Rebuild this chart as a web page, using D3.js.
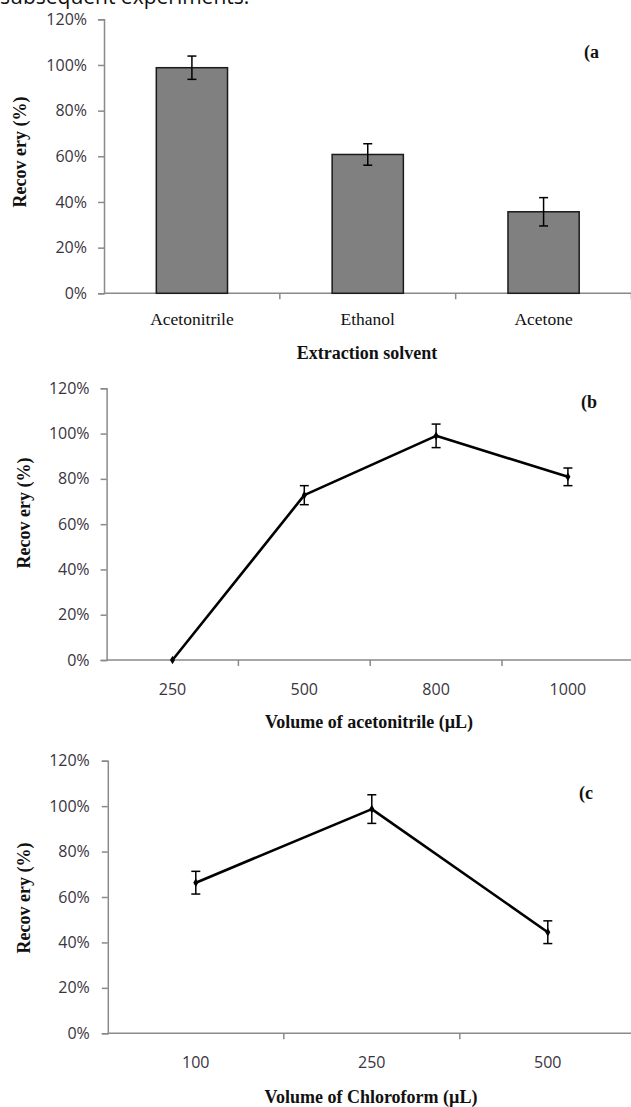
<!DOCTYPE html>
<html>
<head>
<meta charset="utf-8">
<script src="https://cdn.jsdelivr.net/npm/d3@7"></script>
<style>
  html, body { margin: 0; padding: 0; background: #fff; }
  svg { display: block; }
</style>
</head>
<body>
<svg id="chart" width="631" height="1107"></svg>
<script>
// ---------- data ----------
const yTicks = [0, 20, 40, 60, 80, 100, 120];

const solvents = ["Acetonitrile", "Ethanol", "Acetone"];
const solventRecovery = [98.8, 60.8, 35.7];
const solventError = [5.1, 4.7, 6.2];

const acnVolumes = ["250", "500", "800", "1000"];
const acnRecovery = [0, 72.8, 99.0, 80.9];
const acnError = [null, 4.2, 5.2, 3.9];

const chlVolumes = ["100", "250", "500"];
const chlRecovery = [66.3, 98.7, 44.5];
const chlError = [5.0, 6.3, 5.0];

// ---------- drawing ----------
const svg = d3.select("#chart");
const AXIS = "#8a8a8a";
const SANS = "'Open Sans', 'Noto Sans', sans-serif";
const SERIF = "'Liberation Serif', 'DejaVu Serif', serif";

// caption line at the very top (cut off in the source image)
svg.append("text")
  .attr("x", 0).attr("y", 4)
  .attr("font-family", SANS).attr("font-size", 21)
  .attr("fill", "#111")
  .text("subsequent experiments.");

function panel(cfg) {
  const g = svg.append("g");
  const x = d3.scaleBand().domain(cfg.cats).range([cfg.x0, cfg.x1]).padding(0);
  const y = d3.scaleLinear().domain([0, 120]).range([cfg.yBottom, cfg.yTop]);

  // y axis
  const yAxis = d3.axisLeft(y).tickValues(yTicks).tickSize(6).tickFormat(d => d + "%");
  const ya = g.append("g").attr("transform", `translate(${cfg.x0},0)`).call(yAxis);
  ya.select(".domain").attr("stroke", AXIS).attr("stroke-width", 1.5);
  ya.selectAll(".tick line").attr("stroke", AXIS).attr("stroke-width", 1.5);
  ya.selectAll(".tick text")
    .attr("font-family", SANS).attr("font-size", 16).attr("fill", "#3a3440")
    .attr("x", -cfg.tickPad);

  // x axis: baseline with ticks at category boundaries
  const bounds = cfg.cats.map(c => x(c)).slice(1).concat([cfg.x1]);
  g.append("line")
    .attr("x1", cfg.x0).attr("x2", cfg.x1)
    .attr("y1", y(0)).attr("y2", y(0))
    .attr("stroke", AXIS).attr("stroke-width", 1.5);
  g.selectAll(".xt").data(bounds).join("line")
    .attr("x1", d => d).attr("x2", d => d)
    .attr("y1", y(0)).attr("y2", y(0) + 6)
    .attr("stroke", AXIS).attr("stroke-width", 1.5);

  // category labels
  g.selectAll(".cl").data(cfg.cats).join("text")
    .attr("x", d => x(d) + x.bandwidth() / 2)
    .attr("y", cfg.catY)
    .attr("text-anchor", "middle")
    .attr("font-family", cfg.catSerif ? SERIF : SANS)
    .attr("font-size", cfg.catSerif ? 17.5 : 16)
    .attr("fill", cfg.catSerif ? "#111" : "#3a3440")
    .text(d => d);

  // x title
  g.append("text")
    .attr("x", cfg.titleX).attr("y", cfg.titleY)
    .attr("text-anchor", "middle")
    .attr("font-family", SERIF).attr("font-weight", "bold").attr("font-size", 18)
    .attr("fill", "#111")
    .text(cfg.xTitle);

  // y title
  g.append("text")
    .attr("transform", `translate(${cfg.yTitleX},${cfg.yTitleY}) rotate(-90)`)
    .attr("text-anchor", "middle").attr("dominant-baseline", "middle")
    .attr("font-family", SERIF).attr("font-weight", "bold").attr("font-size", 18)
    .attr("fill", "#111")
    .text("Recov ery (%)");

  // panel tag
  g.append("text")
    .attr("x", cfg.tagX).attr("y", cfg.tagY)
    .attr("font-family", SERIF).attr("font-weight", "bold").attr("font-size", 18)
    .attr("fill", "#111")
    .text(cfg.tag);

  const cx = d => x(d) + x.bandwidth() / 2;
  const rows = cfg.cats.map((c, i) => ({ c, v: cfg.vals[i], e: cfg.errs[i] }));

  if (cfg.type === "bar") {
    const bw = x.bandwidth() * 0.405;
    g.selectAll(".bar").data(rows).join("rect")
      .attr("x", d => cx(d.c) - bw / 2)
      .attr("width", bw)
      .attr("y", d => y(d.v))
      .attr("height", d => y(0) - y(d.v))
      .attr("fill", "#808080").attr("stroke", "#1a1a1a").attr("stroke-width", 1.5);
  } else {
    const line = d3.line().x(d => cx(d.c)).y(d => y(d.v));
    g.append("path").datum(rows).attr("d", line)
      .attr("fill", "none").attr("stroke", "#000").attr("stroke-width", 2.6)
      .attr("stroke-linejoin", "round");
    g.selectAll(".pt").data(rows).join("path")
      .attr("d", d3.symbol(d3.symbolDiamond, 22))
      .attr("transform", d => `translate(${cx(d.c)},${y(d.v)})`)
      .attr("fill", "#000");
  }

  // error bars
  const eb = rows.filter(d => d.e != null);
  const cap = 4.5;
  eb.forEach(d => {
    const X = cx(d.c), t = y(d.v + d.e), b = y(d.v - d.e);
    g.append("line").attr("x1", X).attr("x2", X).attr("y1", t).attr("y2", b)
      .attr("stroke", "#000").attr("stroke-width", 1.5);
    g.append("line").attr("x1", X - cap).attr("x2", X + cap).attr("y1", t).attr("y2", t)
      .attr("stroke", "#000").attr("stroke-width", 1.5);
    g.append("line").attr("x1", X - cap).attr("x2", X + cap).attr("y1", b).attr("y2", b)
      .attr("stroke", "#000").attr("stroke-width", 1.5);
  });
}

panel({
  type: "bar", cats: solvents, vals: solventRecovery, errs: solventError,
  x0: 104, x1: 631.5, yBottom: 293.3, yTop: 19.3, tickPad: 17,
  catSerif: true, catY: 325,
  xTitle: "Extraction solvent", titleX: 367, titleY: 359,
  yTitleX: 22, yTitleY: 152,
  tag: "(a", tagX: 584, tagY: 58
});

panel({
  type: "line", cats: acnVolumes, vals: acnRecovery, errs: acnError,
  x0: 106.6, x1: 633.8, yBottom: 660, yTop: 388.3, tickPad: 17,
  catSerif: false, catY: 695,
  xTitle: "Volume of acetonitrile (µL)", titleX: 369, titleY: 728,
  yTitleX: 26, yTitleY: 513,
  tag: "(b", tagX: 581, tagY: 408
});

panel({
  type: "line", cats: chlVolumes, vals: chlRecovery, errs: chlError,
  x0: 107.8, x1: 635.8, yBottom: 1033.3, yTop: 760.7, tickPad: 18,
  catSerif: false, catY: 1068,
  xTitle: "Volume of Chloroform (µL)", titleX: 371, titleY: 1103,
  yTitleX: 26, yTitleY: 898,
  tag: "(c", tagX: 579, tagY: 799
});
</script>
</body>
</html>
